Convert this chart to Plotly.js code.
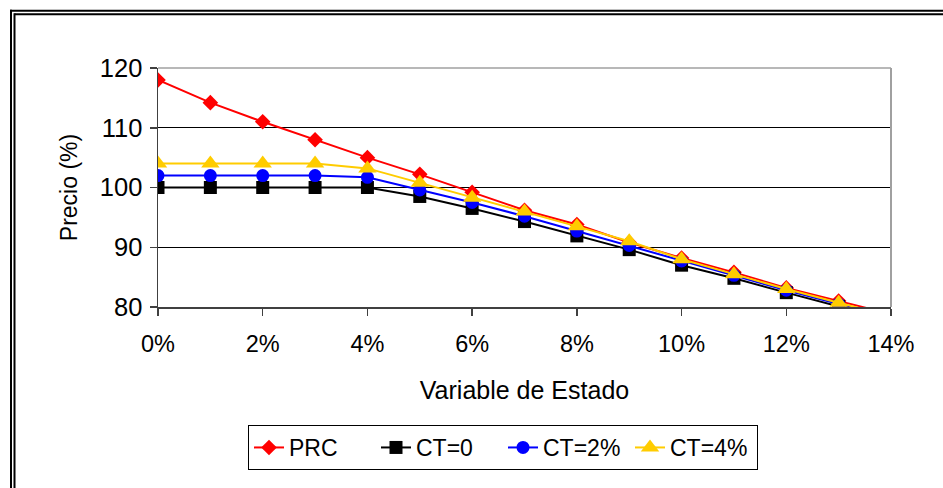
<!DOCTYPE html>
<html>
<head>
<meta charset="utf-8">
<script src="https://cdn.plot.ly/plotly-3.0.1.min.js"></script>
<style>
html,body{margin:0;padding:0;background:#fff;}
#chart{width:943px;height:488px;}
</style>
</head>
<body>
<div id="chart"></div>
<script>
// Data
const estado = [0, 0.01, 0.02, 0.03, 0.04, 0.05, 0.06, 0.07, 0.08, 0.09, 0.10, 0.11, 0.12, 0.13, 0.14];
const prc  = [118, 114.2, 111, 108, 105, 102.2, 99.2, 96.2, 93.8, 90.8, 88.2, 85.8, 83.2, 81, 78.8];
const ct0  = [100, 100, 100, 100, 100, 98.5, 96.5, 94.3, 91.9, 89.6, 87, 84.8, 82.4, 80.1, 77.8];
const ct2  = [102, 102, 102, 102, 101.7, 99.6, 97.5, 95.2, 92.7, 90.3, 87.7, 85.3, 82.8, 80.5, 78.3];
const ct4  = [104, 104, 104, 104, 103.2, 100.8, 98.3, 96, 93.5, 91, 88, 85.5, 83, 80.7, 78.5];
const seriesNames = ["PRC", "CT=0", "CT=2%", "CT=4%"];
const xTickVals = [0, 0.02, 0.04, 0.06, 0.08, 0.10, 0.12, 0.14];
const yTickVals = [80, 90, 100, 110, 120];

const font = "Liberation Sans, Arial, sans-serif";

const traces = [
  {x: estado, y: prc, name: seriesNames[0], mode: "lines+markers",
   line: {color: "#ff0000", width: 2}, marker: {symbol: "diamond", size: 12, color: "#ff0000"}},
  {x: estado, y: ct0, name: seriesNames[1], mode: "lines+markers",
   line: {color: "#000000", width: 2}, marker: {symbol: "square", size: 13, color: "#000000"}},
  {x: estado, y: ct2, name: seriesNames[2], mode: "lines+markers",
   line: {color: "#0000ff", width: 2}, marker: {symbol: "circle", size: 13, color: "#0000ff"}},
  {x: estado, y: ct4, name: seriesNames[3], mode: "lines+markers",
   line: {color: "#ffcc00", width: 2}, marker: {symbol: "triangle-up", size: 16, color: "#ffcc00"}}
];

// pixel -> paper helpers for the frame
const L = 158, R = 891, T = 68, B = 307;
const px = v => (v - L) / (R - L);
const py = v => (B - v) / (B - T);

const layout = {
  width: 943, height: 488,
  margin: {l: L, r: 943 - R, t: T, b: 488 - B},
  paper_bgcolor: "#ffffff", plot_bgcolor: "#ffffff",
  font: {family: font, size: 23, color: "#000"},
  showlegend: true,
  legend: {
    orientation: "h", x: px(503), y: py(425), xanchor: "center", yanchor: "top",
    bordercolor: "#000", borderwidth: 1, font: {family: font, size: 23, color: "#000"},
    entrywidth: 82, entrywidthmode: "pixels", tracegroupgap: 0
  },
  xaxis: {
    range: [0, 0.14], tickvals: xTickVals, tickformat: ".0%",
    showgrid: false, zeroline: false, showline: true, linecolor: "#404040", linewidth: 1.5,
    ticks: "outside", ticklen: 7, tickcolor: "#404040", tickwidth: 1.5,
    tickfont: {family: font, size: 23.5}, ticklabelstandoff: 8,
    title: {text: "Variable de Estado", font: {family: font, size: 25}, standoff: 26}
  },
  yaxis: {
    range: [80, 120], tickvals: yTickVals,
    showgrid: true, gridcolor: "#000", gridwidth: 1,
    zeroline: false, showline: true, linecolor: "#404040", linewidth: 1.5,
    ticks: "outside", ticklen: 7, tickcolor: "#404040", tickwidth: 1.5,
    tickfont: {family: font, size: 25.5}, ticklabelstandoff: 2,
    title: {text: "Precio (%)", font: {family: font, size: 23}, standoff: 16}
  },
  shapes: [
    // plot area top and right border (grey)
    {type: "line", xref: "paper", yref: "paper", x0: 0, x1: 1, y0: 1, y1: 1, line: {color: "#a0a0a0", width: 1.5}},
    {type: "line", xref: "paper", yref: "paper", x0: 1, x1: 1, y0: 0, y1: 1, line: {color: "#a0a0a0", width: 2}},
    // outer double frame (top & left)
    {type: "line", xref: "paper", yref: "paper", x0: px(10), x1: px(960), y0: py(10.7), y1: py(10.7), line: {color: "#000", width: 2}},
    {type: "line", xref: "paper", yref: "paper", x0: px(14.5), x1: px(960), y0: py(14.3), y1: py(14.3), line: {color: "#000", width: 2}},
    {type: "line", xref: "paper", yref: "paper", x0: px(11), x1: px(11), y0: py(9.7), y1: py(500), line: {color: "#000", width: 2}},
    {type: "line", xref: "paper", yref: "paper", x0: px(14.5), x1: px(14.5), y0: py(13.3), y1: py(500), line: {color: "#000", width: 2}}
  ]
};

Plotly.newPlot("chart", traces, layout, {displayModeBar: false, staticPlot: true});
</script>
</body>
</html>
